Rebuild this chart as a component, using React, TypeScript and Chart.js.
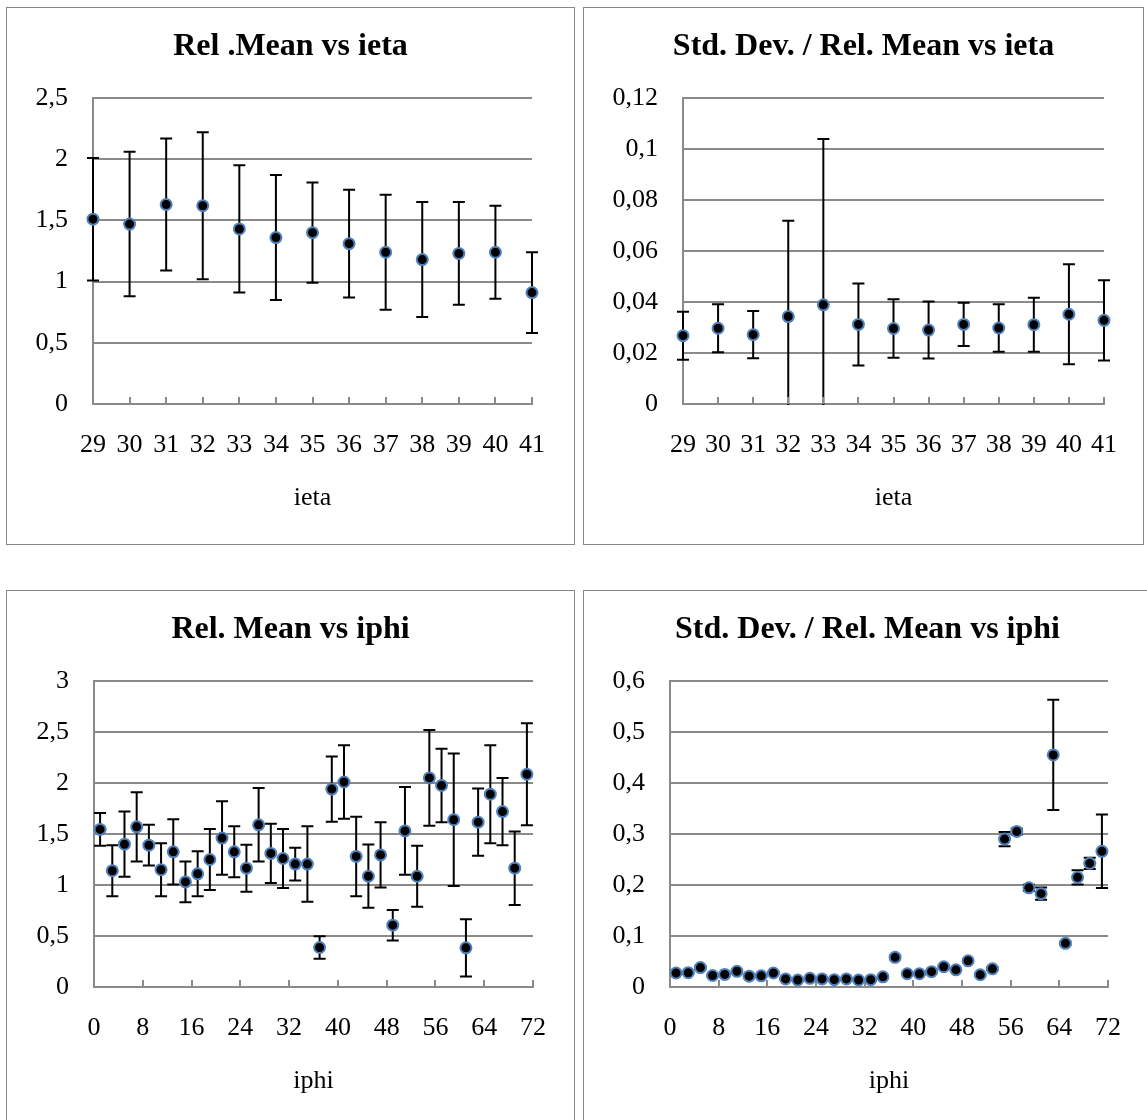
import React, { useEffect, useRef } from "react";
import { Chart, registerables } from "chart.js";

Chart.register(...registerables);

const FONT = "'Liberation Serif', 'Times New Roman', Times, serif";
const GRID = "#8a8a8a";
const MARKER_EDGE = "#4f81bd";

// ---- Data: ieta ----
const ietaBins = [29, 30, 31, 32, 33, 34, 35, 36, 37, 38, 39, 40, 41];
const ietaMean = [1.51, 1.47, 1.63, 1.62, 1.43, 1.36, 1.40, 1.31, 1.24, 1.18, 1.23, 1.24, 0.91];
const ietaMeanErr = [0.50, 0.59, 0.54, 0.60, 0.52, 0.51, 0.41, 0.44, 0.47, 0.47, 0.42, 0.38, 0.33];
const ietaRatio = [0.0268, 0.0297, 0.0272, 0.0343, 0.0389, 0.0312, 0.0296, 0.029, 0.0312, 0.0298, 0.0311, 0.0352, 0.0328];
const ietaRatioErr = [0.0094, 0.0094, 0.0093, 0.0376, 0.065, 0.0161, 0.0115, 0.0112, 0.0085, 0.0093, 0.0106, 0.0196, 0.0157];

// ---- Data: iphi ----
const iphiBins = [1, 3, 5, 7, 9, 11, 13, 15, 17, 19, 21, 23, 25, 27, 29, 31, 33, 35, 37, 39, 41, 43, 45, 47, 49, 51, 53, 55, 57, 59, 61, 63, 65, 67, 69, 71];
const iphiMean = [1.545, 1.14, 1.40, 1.57, 1.39, 1.15, 1.325, 1.03, 1.11, 1.25, 1.46, 1.325, 1.165, 1.59, 1.31, 1.26, 1.205, 1.205, 0.387, 1.94, 2.01, 1.28, 1.086, 1.295, 0.606, 1.53, 1.086, 2.05, 1.976, 1.64, 0.384, 1.616, 1.89, 1.72, 1.165, 2.086];
const iphiMeanErr = [0.16, 0.25, 0.32, 0.34, 0.20, 0.26, 0.32, 0.20, 0.22, 0.30, 0.36, 0.25, 0.23, 0.36, 0.29, 0.29, 0.16, 0.37, 0.11, 0.32, 0.36, 0.39, 0.31, 0.32, 0.15, 0.43, 0.30, 0.47, 0.36, 0.65, 0.28, 0.33, 0.48, 0.33, 0.36, 0.50];
const iphiRatio = [0.0274, 0.028, 0.038, 0.0226, 0.0247, 0.0308, 0.0212, 0.0219, 0.0274, 0.0158, 0.0137, 0.0171, 0.0158, 0.0144, 0.0158, 0.0137, 0.0144, 0.0199, 0.0582, 0.026, 0.026, 0.0301, 0.0397, 0.0336, 0.0514, 0.024, 0.0356, 0.29, 0.305, 0.1945, 0.183, 0.455, 0.0856, 0.215, 0.2425, 0.266];
const iphiRatioErr = [0.002, 0.002, 0.003, 0.002, 0.002, 0.003, 0.002, 0.002, 0.002, 0.002, 0.001, 0.002, 0.002, 0.001, 0.002, 0.001, 0.001, 0.003, 0.004, 0.002, 0.002, 0.002, 0.003, 0.002, 0.003, 0.002, 0.003, 0.014, 0.006, 0.006, 0.012, 0.108, 0.003, 0.014, 0.011, 0.072];

// ---- Titles ----
const titles = [
  "Rel .Mean vs ieta",
  "Std. Dev. / Rel. Mean vs ieta",
  "Rel. Mean vs iphi",
  "Std. Dev. / Rel. Mean vs iphi",
];

function fmtComma(v: number): string {
  return String(parseFloat(Number(v).toFixed(4))).replace(".", ",");
}

const errorBarPlugin = {
  id: "errorBars",
  beforeDatasetsDraw(chart: any) {
    const { ctx, chartArea } = chart;
    const xs = chart.scales.x;
    const ys = chart.scales.y;
    ctx.save();
    ctx.beginPath();
    ctx.rect(0, chartArea.top - 2, chart.width, chartArea.bottom - chartArea.top + 3);
    ctx.clip();
    ctx.strokeStyle = "#000";
    ctx.lineWidth = 2;
    chart.data.datasets.forEach((ds: any) => {
      const errs: number[] | undefined = ds.errorBars;
      if (!errs) return;
      ds.data.forEach((p: any, j: number) => {
        const x = xs.getPixelForValue(p.x);
        const yHi = ys.getPixelForValue(p.y + errs[j]);
        const yLo = ys.getPixelForValue(p.y - errs[j]);
        ctx.beginPath();
        ctx.moveTo(x, yHi);
        ctx.lineTo(x, yLo);
        ctx.moveTo(x - 6, yHi);
        ctx.lineTo(x + 6, yHi);
        ctx.moveTo(x - 6, yLo);
        ctx.lineTo(x + 6, yLo);
        ctx.stroke();
      });
    });
    ctx.restore();
  },
};

const innerTickPlugin = {
  id: "innerTicks",
  beforeDatasetsDraw(chart: any) {
    const { ctx, chartArea } = chart;
    const xs = chart.scales.x;
    ctx.save();
    ctx.strokeStyle = GRID;
    ctx.lineWidth = 2;
    xs.ticks.forEach((t: any) => {
      const x = Math.round(xs.getPixelForValue(t.value));
      ctx.beginPath();
      ctx.moveTo(x, chartArea.bottom);
      ctx.lineTo(x, chartArea.bottom - 7);
      ctx.stroke();
    });
    ctx.restore();
  },
};

type Spec = {
  left: number;
  top: number;
  w: number;
  h: number;
  plotLeft: number;
  plotRight: number;
  plotBottom: number;
  title: string;
  xTitle: string;
  xs: number[];
  ys: number[];
  errs: number[];
  xMin: number;
  xMax: number;
  xStep: number;
  yMax: number;
  yStep: number;
};

function Panel({ spec }: { spec: Spec }) {
  const ref = useRef<HTMLCanvasElement>(null);
  useEffect(() => {
    const chart = new Chart(ref.current as HTMLCanvasElement, {
      type: "scatter",
      data: {
        datasets: [
          {
            data: spec.xs.map((x, i) => ({ x, y: spec.ys[i] })),
            errorBars: spec.errs,
            pointRadius: 5.5,
            pointHoverRadius: 5.5,
            pointBackgroundColor: "#000",
            pointBorderColor: MARKER_EDGE,
            pointBorderWidth: 2,
            clip: false,
          } as any,
        ],
      },
      options: {
        responsive: false,
        animation: false,
        devicePixelRatio: 1,
        events: [],
        layout: { padding: 0 },
        plugins: {
          legend: { display: false },
          tooltip: { enabled: false },
          title: {
            display: true,
            text: spec.title,
            color: "#000",
            font: { family: FONT, size: 32, weight: "bold", lineHeight: 1.2 },
            padding: { top: 19.5, bottom: 32.1 },
          },
        },
        scales: {
          x: {
            type: "linear",
            min: spec.xMin,
            max: spec.xMax,
            ticks: {
              stepSize: spec.xStep,
              autoSkip: false,
              maxRotation: 0,
              padding: 26,
              color: "#000",
              font: { family: FONT, size: 26, lineHeight: 1.2 },
              callback: (v: any) => String(v),
            },
            grid: { display: true, drawOnChartArea: false, drawTicks: false },
            border: { display: true, color: GRID, width: 2 },
            title: {
              display: true,
              text: spec.xTitle,
              color: "#000",
              font: { family: FONT, size: 26, lineHeight: 1.2 },
              padding: { top: 0, bottom: 30 },
            },
            afterFit: (s: any) => {
              s.height = spec.h - spec.plotBottom;
            },
          },
          y: {
            type: "linear",
            position: "left",
            min: 0,
            max: spec.yMax,
            ticks: {
              stepSize: spec.yStep,
              padding: 25,
              color: "#000",
              font: { family: FONT, size: 26, lineHeight: 1.2 },
              callback: (v: any) => fmtComma(v),
            },
            grid: { color: GRID, lineWidth: 2, drawTicks: false },
            border: { display: true, color: GRID, width: 2 },
            afterFit: (s: any) => {
              s.width = spec.plotLeft;
            },
          },
          yRightSpace: {
            type: "linear",
            position: "right",
            display: true,
            min: 0,
            max: spec.yMax,
            grid: { display: false, drawOnChartArea: false },
            border: { display: false },
            ticks: { display: false },
            afterFit: (s: any) => {
              s.width = spec.w - spec.plotRight;
            },
          },
        },
      } as any,
      plugins: [errorBarPlugin, innerTickPlugin],
    });
    return () => chart.destroy();
  }, []);
  return (
    <div
      style={{
        position: "absolute",
        left: spec.left,
        top: spec.top,
        width: spec.w,
        height: spec.h,
        border: "1px solid #868686",
        background: "#fff",
      }}
    >
      <canvas ref={ref} width={spec.w} height={spec.h} style={{ display: "block" }} />
    </div>
  );
}

const specs: Spec[] = [
  {
    left: 6, top: 7, w: 567, h: 536, plotLeft: 86, plotRight: 525, plotBottom: 396,
    title: titles[0], xTitle: "ieta", xs: ietaBins, ys: ietaMean, errs: ietaMeanErr,
    xMin: 29, xMax: 41, xStep: 1, yMax: 2.5, yStep: 0.5,
  },
  {
    left: 583, top: 7, w: 559, h: 536, plotLeft: 99, plotRight: 524.5, plotBottom: 396,
    title: titles[1], xTitle: "ieta", xs: ietaBins, ys: ietaRatio, errs: ietaRatioErr,
    xMin: 29, xMax: 41, xStep: 1, yMax: 0.12, yStep: 0.02,
  },
  {
    left: 6, top: 590, w: 567, h: 536, plotLeft: 87, plotRight: 526, plotBottom: 396,
    title: titles[2], xTitle: "iphi", xs: iphiBins, ys: iphiMean, errs: iphiMeanErr,
    xMin: 0, xMax: 72, xStep: 8, yMax: 3, yStep: 0.5,
  },
  {
    left: 583, top: 590, w: 567, h: 536, plotLeft: 86, plotRight: 524, plotBottom: 396,
    title: titles[3], xTitle: "iphi", xs: iphiBins, ys: iphiRatio, errs: iphiRatioErr,
    xMin: 0, xMax: 72, xStep: 8, yMax: 0.6, yStep: 0.1,
  },
];

export default function App() {
  return (
    <div
      style={{
        position: "absolute",
        left: 0,
        top: 0,
        width: 1147,
        height: 1120,
        overflow: "hidden",
        background: "#fff",
      }}
    >
      {specs.map((s, i) => (
        <Panel key={i} spec={s} />
      ))}
    </div>
  );
}
